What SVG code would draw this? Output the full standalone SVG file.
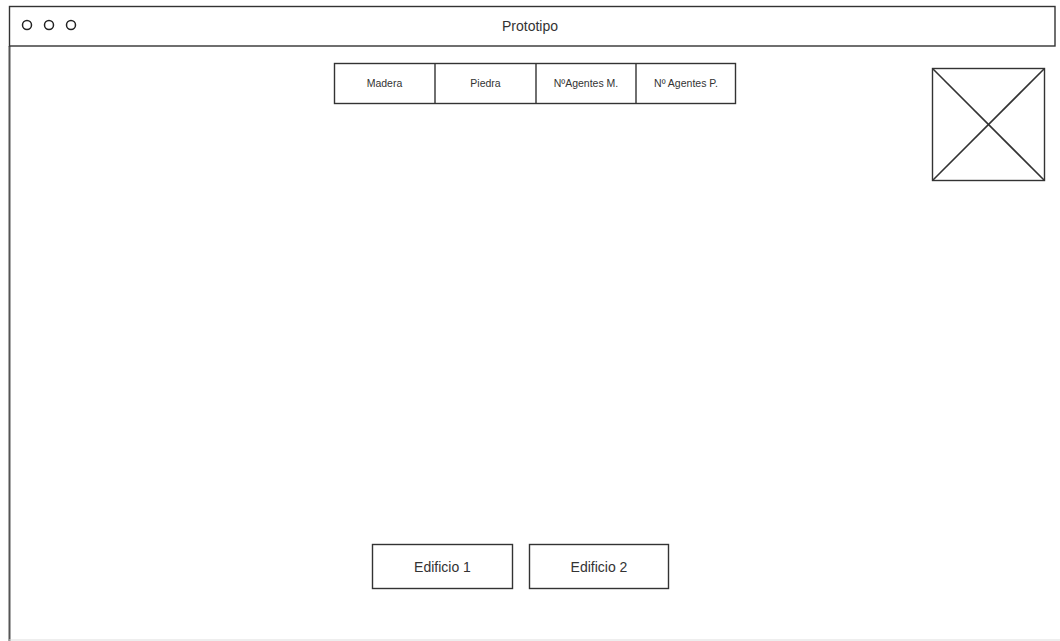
<svg xmlns="http://www.w3.org/2000/svg" width="1060" height="641" viewBox="0 0 1060 641">
<style>
.ln{fill:none;stroke:#222;stroke-width:1.6;stroke-linejoin:round}
.box{fill:#fff;stroke:#333;stroke-width:1.4}
.t{font-family:"Liberation Sans",Arial,sans-serif;fill:#333;text-anchor:middle;dominant-baseline:central}
</style>
<rect width="1060" height="641" fill="#fff"/>
<g id="window">
<line x1="9.5" y1="46" x2="9.5" y2="641" stroke="#555" stroke-width="2"/>
<line x1="9" y1="640" x2="1060" y2="640" stroke="#ddd" stroke-width="1.2"/>
</g>
<g id="titlebar">
<rect x="9.5" y="6.5" width="1045.5" height="39.5" class="box" stroke-width="1.8"/>
<circle cx="27" cy="25" r="4.5" fill="none" stroke="#222" stroke-width="1.5"/>
<circle cx="49" cy="25" r="4.5" fill="none" stroke="#222" stroke-width="1.5"/>
<circle cx="71" cy="25" r="4.5" fill="none" stroke="#222" stroke-width="1.5"/>
<text class="t" x="530" y="26" font-size="14">Prototipo</text>
</g>
<g id="tabs">
<rect x="334.5" y="63.5" width="401" height="40" class="box"/>
<line x1="435" y1="63.5" x2="435" y2="103.5" stroke="#333" stroke-width="1.4"/>
<line x1="536" y1="63.5" x2="536" y2="103.5" stroke="#333" stroke-width="1.4"/>
<line x1="636" y1="63.5" x2="636" y2="103.5" stroke="#333" stroke-width="1.4"/>
<text class="t" x="384.5" y="83" font-size="10.5">Madera</text>
<text class="t" x="485.5" y="83" font-size="10.5">Piedra</text>
<text class="t" x="586" y="83" font-size="10.5">NºAgentes M.</text>
<text class="t" x="686" y="83" font-size="10.5">Nº Agentes P.</text>
</g>
<g id="image">
<rect x="932.5" y="68.5" width="112" height="112" class="box" stroke-width="1.8"/>
<line x1="932.5" y1="68.5" x2="1044.5" y2="180.5" stroke="#333" stroke-width="1.6"/>
<line x1="1044.5" y1="68.5" x2="932.5" y2="180.5" stroke="#333" stroke-width="1.6"/>
</g>
<g id="btn1">
<rect x="372.5" y="544.5" width="140" height="44" class="box" stroke-width="1.8"/>
<text class="t" x="442.5" y="567" font-size="14">Edificio 1</text>
</g>
<g id="btn2">
<rect x="529.5" y="544.5" width="139" height="44" class="box" stroke-width="1.8"/>
<text class="t" x="599" y="567" font-size="14">Edificio 2</text>
</g>
<g id="connectors"/>
</svg>
